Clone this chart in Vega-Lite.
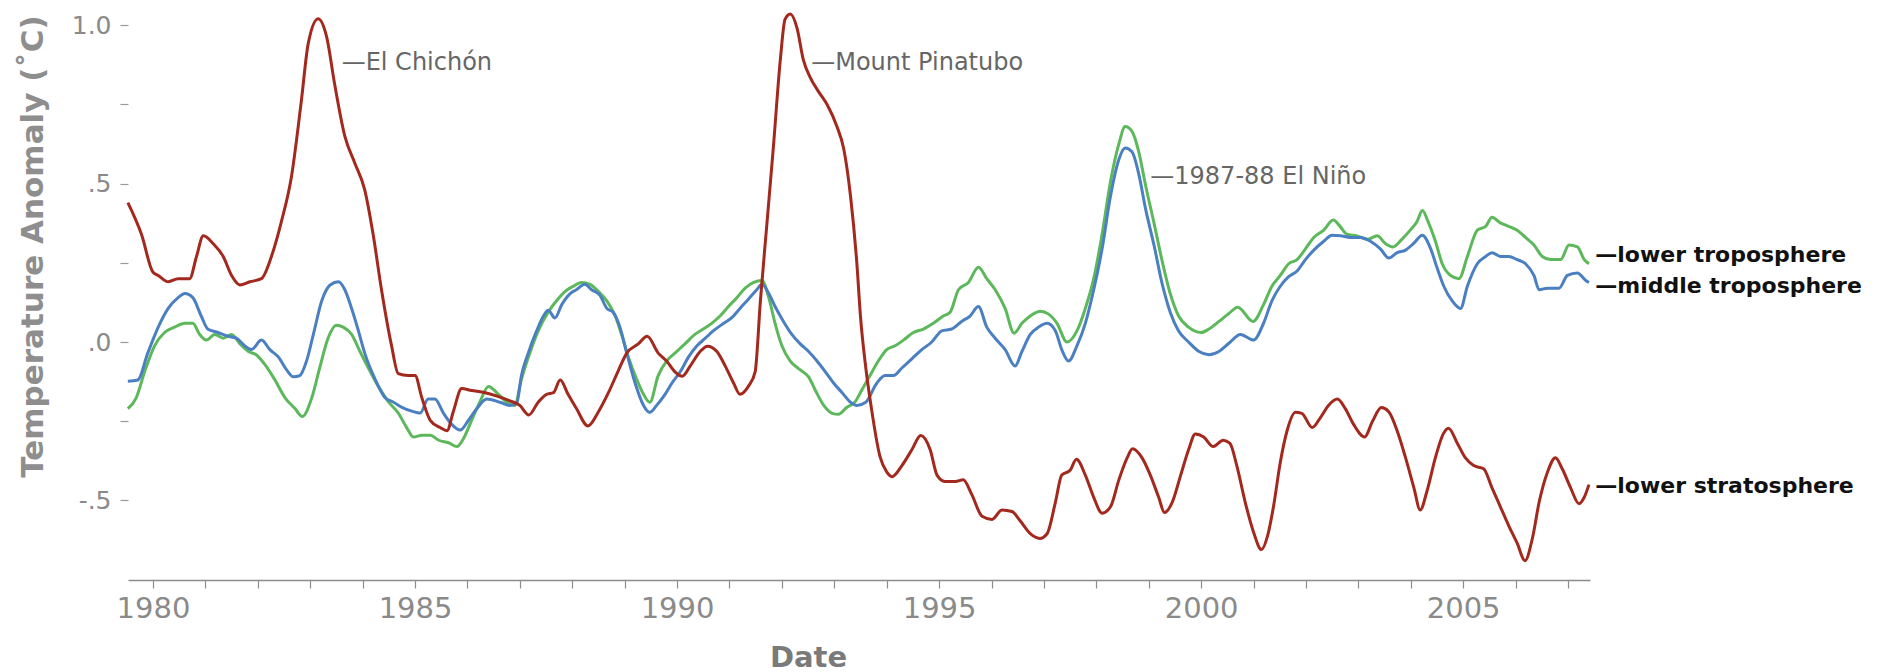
{
  "$schema": "https://vega.github.io/schema/vega-lite/v6.json",
  "width": 1462,
  "height": 572,
  "autosize": {"type": "none"},
  "padding": {"left": 128, "top": 8, "right": 295, "bottom": 92},
  "background": "white",
  "config": {"view": {"stroke": null}, "font": "DejaVu Sans"},
  "datasets": {
    "series": [
      {"year":1979.52,"series":"lower troposphere","value":-0.21},
      {"year":1979.68,"series":"lower troposphere","value":-0.176},
      {"year":1979.84,"series":"lower troposphere","value":-0.094},
      {"year":1980.03,"series":"lower troposphere","value":-0.012},
      {"year":1980.22,"series":"lower troposphere","value":0.03},
      {"year":1980.41,"series":"lower troposphere","value":0.047},
      {"year":1980.61,"series":"lower troposphere","value":0.059},
      {"year":1980.76,"series":"lower troposphere","value":0.059},
      {"year":1980.89,"series":"lower troposphere","value":0.024},
      {"year":1981.02,"series":"lower troposphere","value":0.006},
      {"year":1981.18,"series":"lower troposphere","value":0.024},
      {"year":1981.34,"series":"lower troposphere","value":0.012},
      {"year":1981.5,"series":"lower troposphere","value":0.024},
      {"year":1981.66,"series":"lower troposphere","value":-0.006},
      {"year":1981.82,"series":"lower troposphere","value":-0.03},
      {"year":1981.97,"series":"lower troposphere","value":-0.04},
      {"year":1982.13,"series":"lower troposphere","value":-0.07},
      {"year":1982.32,"series":"lower troposphere","value":-0.118},
      {"year":1982.52,"series":"lower troposphere","value":-0.176},
      {"year":1982.71,"series":"lower troposphere","value":-0.21},
      {"year":1982.85,"series":"lower troposphere","value":-0.235},
      {"year":1983.03,"series":"lower troposphere","value":-0.176},
      {"year":1983.18,"series":"lower troposphere","value":-0.082},
      {"year":1983.34,"series":"lower troposphere","value":0.012},
      {"year":1983.5,"series":"lower troposphere","value":0.053},
      {"year":1983.63,"series":"lower troposphere","value":0.047},
      {"year":1983.79,"series":"lower troposphere","value":0.024},
      {"year":1983.95,"series":"lower troposphere","value":-0.03},
      {"year":1984.11,"series":"lower troposphere","value":-0.082},
      {"year":1984.3,"series":"lower troposphere","value":-0.14},
      {"year":1984.49,"series":"lower troposphere","value":-0.188},
      {"year":1984.68,"series":"lower troposphere","value":-0.224},
      {"year":1984.84,"series":"lower troposphere","value":-0.27},
      {"year":1984.97,"series":"lower troposphere","value":-0.3},
      {"year":1985.13,"series":"lower troposphere","value":-0.294},
      {"year":1985.29,"series":"lower troposphere","value":-0.294},
      {"year":1985.45,"series":"lower troposphere","value":-0.31},
      {"year":1985.64,"series":"lower troposphere","value":-0.318},
      {"year":1985.8,"series":"lower troposphere","value":-0.33},
      {"year":1985.92,"series":"lower troposphere","value":-0.306},
      {"year":1986.08,"series":"lower troposphere","value":-0.247},
      {"year":1986.24,"series":"lower troposphere","value":-0.188},
      {"year":1986.4,"series":"lower troposphere","value":-0.14},
      {"year":1986.59,"series":"lower troposphere","value":-0.165},
      {"year":1986.75,"series":"lower troposphere","value":-0.19},
      {"year":1986.9,"series":"lower troposphere","value":-0.2},
      {"year":1987.03,"series":"lower troposphere","value":-0.118},
      {"year":1987.19,"series":"lower troposphere","value":-0.035},
      {"year":1987.35,"series":"lower troposphere","value":0.035},
      {"year":1987.54,"series":"lower troposphere","value":0.094},
      {"year":1987.7,"series":"lower troposphere","value":0.13},
      {"year":1987.86,"series":"lower troposphere","value":0.159},
      {"year":1988.02,"series":"lower troposphere","value":0.176},
      {"year":1988.18,"series":"lower troposphere","value":0.188},
      {"year":1988.34,"series":"lower troposphere","value":0.182},
      {"year":1988.5,"series":"lower troposphere","value":0.159},
      {"year":1988.66,"series":"lower troposphere","value":0.13},
      {"year":1988.82,"series":"lower troposphere","value":0.082},
      {"year":1988.94,"series":"lower troposphere","value":0.024},
      {"year":1989.07,"series":"lower troposphere","value":-0.047},
      {"year":1989.23,"series":"lower troposphere","value":-0.118},
      {"year":1989.36,"series":"lower troposphere","value":-0.165},
      {"year":1989.48,"series":"lower troposphere","value":-0.19},
      {"year":1989.64,"series":"lower troposphere","value":-0.106},
      {"year":1989.8,"series":"lower troposphere","value":-0.06},
      {"year":1989.96,"series":"lower troposphere","value":-0.035},
      {"year":1990.15,"series":"lower troposphere","value":-0.006},
      {"year":1990.34,"series":"lower troposphere","value":0.024},
      {"year":1990.5,"series":"lower troposphere","value":0.041},
      {"year":1990.66,"series":"lower troposphere","value":0.059},
      {"year":1990.82,"series":"lower troposphere","value":0.082},
      {"year":1990.98,"series":"lower troposphere","value":0.112},
      {"year":1991.14,"series":"lower troposphere","value":0.14},
      {"year":1991.3,"series":"lower troposphere","value":0.17},
      {"year":1991.46,"series":"lower troposphere","value":0.188},
      {"year":1991.62,"series":"lower troposphere","value":0.194},
      {"year":1991.75,"series":"lower troposphere","value":0.14},
      {"year":1991.87,"series":"lower troposphere","value":0.059},
      {"year":1992.0,"series":"lower troposphere","value":-0.012},
      {"year":1992.16,"series":"lower troposphere","value":-0.06},
      {"year":1992.35,"series":"lower troposphere","value":-0.088},
      {"year":1992.51,"series":"lower troposphere","value":-0.11},
      {"year":1992.64,"series":"lower troposphere","value":-0.153},
      {"year":1992.8,"series":"lower troposphere","value":-0.2},
      {"year":1992.96,"series":"lower troposphere","value":-0.225},
      {"year":1993.08,"series":"lower troposphere","value":-0.228},
      {"year":1993.24,"series":"lower troposphere","value":-0.206},
      {"year":1993.4,"series":"lower troposphere","value":-0.188},
      {"year":1993.52,"series":"lower troposphere","value":-0.153},
      {"year":1993.68,"series":"lower troposphere","value":-0.106},
      {"year":1993.84,"series":"lower troposphere","value":-0.06},
      {"year":1994.0,"series":"lower troposphere","value":-0.024},
      {"year":1994.16,"series":"lower troposphere","value":-0.012},
      {"year":1994.32,"series":"lower troposphere","value":0.006},
      {"year":1994.51,"series":"lower troposphere","value":0.03},
      {"year":1994.7,"series":"lower troposphere","value":0.041},
      {"year":1994.89,"series":"lower troposphere","value":0.059},
      {"year":1995.08,"series":"lower troposphere","value":0.082},
      {"year":1995.21,"series":"lower troposphere","value":0.094},
      {"year":1995.37,"series":"lower troposphere","value":0.165},
      {"year":1995.56,"series":"lower troposphere","value":0.188},
      {"year":1995.75,"series":"lower troposphere","value":0.236},
      {"year":1995.91,"series":"lower troposphere","value":0.2},
      {"year":1996.07,"series":"lower troposphere","value":0.165},
      {"year":1996.26,"series":"lower troposphere","value":0.106},
      {"year":1996.43,"series":"lower troposphere","value":0.028},
      {"year":1996.58,"series":"lower troposphere","value":0.059},
      {"year":1996.74,"series":"lower troposphere","value":0.082},
      {"year":1996.93,"series":"lower troposphere","value":0.097},
      {"year":1997.09,"series":"lower troposphere","value":0.088},
      {"year":1997.25,"series":"lower troposphere","value":0.059},
      {"year":1997.44,"series":"lower troposphere","value":0.0},
      {"year":1997.63,"series":"lower troposphere","value":0.035},
      {"year":1997.79,"series":"lower troposphere","value":0.106},
      {"year":1997.95,"series":"lower troposphere","value":0.2},
      {"year":1998.11,"series":"lower troposphere","value":0.34},
      {"year":1998.27,"series":"lower troposphere","value":0.506},
      {"year":1998.43,"series":"lower troposphere","value":0.625},
      {"year":1998.55,"series":"lower troposphere","value":0.68},
      {"year":1998.68,"series":"lower troposphere","value":0.665},
      {"year":1998.81,"series":"lower troposphere","value":0.6},
      {"year":1998.94,"series":"lower troposphere","value":0.494},
      {"year":1999.1,"series":"lower troposphere","value":0.376},
      {"year":1999.25,"series":"lower troposphere","value":0.26},
      {"year":1999.41,"series":"lower troposphere","value":0.153},
      {"year":1999.57,"series":"lower troposphere","value":0.082},
      {"year":1999.76,"series":"lower troposphere","value":0.047},
      {"year":2000.0,"series":"lower troposphere","value":0.03},
      {"year":2000.15,"series":"lower troposphere","value":0.041},
      {"year":2000.34,"series":"lower troposphere","value":0.065},
      {"year":2000.53,"series":"lower troposphere","value":0.09},
      {"year":2000.7,"series":"lower troposphere","value":0.11},
      {"year":2000.99,"series":"lower troposphere","value":0.065},
      {"year":2001.19,"series":"lower troposphere","value":0.118},
      {"year":2001.35,"series":"lower troposphere","value":0.176},
      {"year":2001.51,"series":"lower troposphere","value":0.21},
      {"year":2001.67,"series":"lower troposphere","value":0.247},
      {"year":2001.83,"series":"lower troposphere","value":0.26},
      {"year":2001.99,"series":"lower troposphere","value":0.294},
      {"year":2002.15,"series":"lower troposphere","value":0.33},
      {"year":2002.34,"series":"lower troposphere","value":0.353},
      {"year":2002.52,"series":"lower troposphere","value":0.385},
      {"year":2002.65,"series":"lower troposphere","value":0.365},
      {"year":2002.78,"series":"lower troposphere","value":0.34},
      {"year":2002.97,"series":"lower troposphere","value":0.335},
      {"year":2003.17,"series":"lower troposphere","value":0.324},
      {"year":2003.36,"series":"lower troposphere","value":0.335},
      {"year":2003.52,"series":"lower troposphere","value":0.31},
      {"year":2003.66,"series":"lower troposphere","value":0.3},
      {"year":2003.83,"series":"lower troposphere","value":0.324},
      {"year":2003.99,"series":"lower troposphere","value":0.353},
      {"year":2004.12,"series":"lower troposphere","value":0.38},
      {"year":2004.22,"series":"lower troposphere","value":0.415},
      {"year":2004.34,"series":"lower troposphere","value":0.376},
      {"year":2004.47,"series":"lower troposphere","value":0.318},
      {"year":2004.6,"series":"lower troposphere","value":0.247},
      {"year":2004.76,"series":"lower troposphere","value":0.21},
      {"year":2004.92,"series":"lower troposphere","value":0.2},
      {"year":2005.08,"series":"lower troposphere","value":0.27},
      {"year":2005.27,"series":"lower troposphere","value":0.353},
      {"year":2005.43,"series":"lower troposphere","value":0.365},
      {"year":2005.55,"series":"lower troposphere","value":0.394},
      {"year":2005.71,"series":"lower troposphere","value":0.376},
      {"year":2005.87,"series":"lower troposphere","value":0.365},
      {"year":2006.03,"series":"lower troposphere","value":0.353},
      {"year":2006.19,"series":"lower troposphere","value":0.33},
      {"year":2006.35,"series":"lower troposphere","value":0.306},
      {"year":2006.51,"series":"lower troposphere","value":0.27},
      {"year":2006.67,"series":"lower troposphere","value":0.26},
      {"year":2006.86,"series":"lower troposphere","value":0.26},
      {"year":2007.02,"series":"lower troposphere","value":0.306},
      {"year":2007.18,"series":"lower troposphere","value":0.3},
      {"year":2007.31,"series":"lower troposphere","value":0.26},
      {"year":2007.4,"series":"lower troposphere","value":0.247},

      {"year":1979.52,"series":"middle troposphere","value":-0.124},
      {"year":1979.71,"series":"middle troposphere","value":-0.12},
      {"year":1979.9,"series":"middle troposphere","value":-0.035},
      {"year":1980.1,"series":"middle troposphere","value":0.047},
      {"year":1980.29,"series":"middle troposphere","value":0.106},
      {"year":1980.48,"series":"middle troposphere","value":0.14},
      {"year":1980.61,"series":"middle troposphere","value":0.153},
      {"year":1980.76,"series":"middle troposphere","value":0.14},
      {"year":1980.92,"series":"middle troposphere","value":0.082},
      {"year":1981.05,"series":"middle troposphere","value":0.04},
      {"year":1981.24,"series":"middle troposphere","value":0.03},
      {"year":1981.43,"series":"middle troposphere","value":0.018},
      {"year":1981.59,"series":"middle troposphere","value":0.012},
      {"year":1981.75,"series":"middle troposphere","value":-0.012},
      {"year":1981.88,"series":"middle troposphere","value":-0.024},
      {"year":1982.07,"series":"middle troposphere","value":0.006},
      {"year":1982.23,"series":"middle troposphere","value":-0.024},
      {"year":1982.39,"series":"middle troposphere","value":-0.047},
      {"year":1982.55,"series":"middle troposphere","value":-0.088},
      {"year":1982.68,"series":"middle troposphere","value":-0.11},
      {"year":1982.8,"series":"middle troposphere","value":-0.106},
      {"year":1982.93,"series":"middle troposphere","value":-0.06},
      {"year":1983.06,"series":"middle troposphere","value":0.024},
      {"year":1983.22,"series":"middle troposphere","value":0.13},
      {"year":1983.38,"series":"middle troposphere","value":0.18},
      {"year":1983.54,"series":"middle troposphere","value":0.19},
      {"year":1983.66,"series":"middle troposphere","value":0.165},
      {"year":1983.79,"series":"middle troposphere","value":0.106},
      {"year":1983.92,"series":"middle troposphere","value":0.035},
      {"year":1984.04,"series":"middle troposphere","value":-0.035},
      {"year":1984.24,"series":"middle troposphere","value":-0.118},
      {"year":1984.43,"series":"middle troposphere","value":-0.176},
      {"year":1984.59,"series":"middle troposphere","value":-0.19},
      {"year":1984.75,"series":"middle troposphere","value":-0.206},
      {"year":1984.94,"series":"middle troposphere","value":-0.218},
      {"year":1985.1,"series":"middle troposphere","value":-0.224},
      {"year":1985.25,"series":"middle troposphere","value":-0.18},
      {"year":1985.38,"series":"middle troposphere","value":-0.18},
      {"year":1985.54,"series":"middle troposphere","value":-0.224},
      {"year":1985.7,"series":"middle troposphere","value":-0.26},
      {"year":1985.86,"series":"middle troposphere","value":-0.278},
      {"year":1986.02,"series":"middle troposphere","value":-0.247},
      {"year":1986.18,"series":"middle troposphere","value":-0.21},
      {"year":1986.37,"series":"middle troposphere","value":-0.18},
      {"year":1986.62,"series":"middle troposphere","value":-0.19},
      {"year":1986.81,"series":"middle troposphere","value":-0.2},
      {"year":1986.94,"series":"middle troposphere","value":-0.194},
      {"year":1987.03,"series":"middle troposphere","value":-0.106},
      {"year":1987.16,"series":"middle troposphere","value":-0.035},
      {"year":1987.32,"series":"middle troposphere","value":0.035},
      {"year":1987.45,"series":"middle troposphere","value":0.082},
      {"year":1987.54,"series":"middle troposphere","value":0.1},
      {"year":1987.67,"series":"middle troposphere","value":0.076},
      {"year":1987.8,"series":"middle troposphere","value":0.118},
      {"year":1987.96,"series":"middle troposphere","value":0.153},
      {"year":1988.08,"series":"middle troposphere","value":0.165},
      {"year":1988.24,"series":"middle troposphere","value":0.182},
      {"year":1988.37,"series":"middle troposphere","value":0.165},
      {"year":1988.53,"series":"middle troposphere","value":0.147},
      {"year":1988.66,"series":"middle troposphere","value":0.106},
      {"year":1988.78,"series":"middle troposphere","value":0.094},
      {"year":1988.91,"series":"middle troposphere","value":0.047},
      {"year":1989.04,"series":"middle troposphere","value":-0.035},
      {"year":1989.2,"series":"middle troposphere","value":-0.13},
      {"year":1989.36,"series":"middle troposphere","value":-0.2},
      {"year":1989.48,"series":"middle troposphere","value":-0.222},
      {"year":1989.61,"series":"middle troposphere","value":-0.2},
      {"year":1989.77,"series":"middle troposphere","value":-0.165},
      {"year":1989.9,"series":"middle troposphere","value":-0.13},
      {"year":1990.06,"series":"middle troposphere","value":-0.094},
      {"year":1990.22,"series":"middle troposphere","value":-0.047},
      {"year":1990.38,"series":"middle troposphere","value":-0.012},
      {"year":1990.54,"series":"middle troposphere","value":0.012},
      {"year":1990.69,"series":"middle troposphere","value":0.035},
      {"year":1990.89,"series":"middle troposphere","value":0.059},
      {"year":1991.04,"series":"middle troposphere","value":0.076},
      {"year":1991.2,"series":"middle troposphere","value":0.106},
      {"year":1991.36,"series":"middle troposphere","value":0.135},
      {"year":1991.52,"series":"middle troposphere","value":0.165},
      {"year":1991.62,"series":"middle troposphere","value":0.182},
      {"year":1991.75,"series":"middle troposphere","value":0.153},
      {"year":1991.87,"series":"middle troposphere","value":0.112},
      {"year":1992.03,"series":"middle troposphere","value":0.065},
      {"year":1992.19,"series":"middle troposphere","value":0.024},
      {"year":1992.35,"series":"middle troposphere","value":-0.006},
      {"year":1992.51,"series":"middle troposphere","value":-0.03},
      {"year":1992.67,"series":"middle troposphere","value":-0.06},
      {"year":1992.83,"series":"middle troposphere","value":-0.094},
      {"year":1992.99,"series":"middle troposphere","value":-0.13},
      {"year":1993.15,"series":"middle troposphere","value":-0.16},
      {"year":1993.31,"series":"middle troposphere","value":-0.19},
      {"year":1993.43,"series":"middle troposphere","value":-0.2},
      {"year":1993.6,"series":"middle troposphere","value":-0.19},
      {"year":1993.81,"series":"middle troposphere","value":-0.13},
      {"year":1993.97,"series":"middle troposphere","value":-0.106},
      {"year":1994.13,"series":"middle troposphere","value":-0.106},
      {"year":1994.29,"series":"middle troposphere","value":-0.082},
      {"year":1994.48,"series":"middle troposphere","value":-0.053},
      {"year":1994.67,"series":"middle troposphere","value":-0.024},
      {"year":1994.86,"series":"middle troposphere","value":0.0},
      {"year":1995.05,"series":"middle troposphere","value":0.035},
      {"year":1995.24,"series":"middle troposphere","value":0.041},
      {"year":1995.43,"series":"middle troposphere","value":0.065},
      {"year":1995.59,"series":"middle troposphere","value":0.082},
      {"year":1995.75,"series":"middle troposphere","value":0.112},
      {"year":1995.91,"series":"middle troposphere","value":0.047},
      {"year":1996.07,"series":"middle troposphere","value":0.012},
      {"year":1996.26,"series":"middle troposphere","value":-0.024},
      {"year":1996.45,"series":"middle troposphere","value":-0.076},
      {"year":1996.58,"series":"middle troposphere","value":-0.03},
      {"year":1996.74,"series":"middle troposphere","value":0.024},
      {"year":1996.9,"series":"middle troposphere","value":0.047},
      {"year":1997.06,"series":"middle troposphere","value":0.059},
      {"year":1997.22,"series":"middle troposphere","value":0.035},
      {"year":1997.34,"series":"middle troposphere","value":-0.024},
      {"year":1997.47,"series":"middle troposphere","value":-0.06},
      {"year":1997.63,"series":"middle troposphere","value":-0.012},
      {"year":1997.79,"series":"middle troposphere","value":0.059},
      {"year":1997.95,"series":"middle troposphere","value":0.165},
      {"year":1998.11,"series":"middle troposphere","value":0.294},
      {"year":1998.27,"series":"middle troposphere","value":0.46},
      {"year":1998.43,"series":"middle troposphere","value":0.576},
      {"year":1998.55,"series":"middle troposphere","value":0.612},
      {"year":1998.68,"series":"middle troposphere","value":0.6},
      {"year":1998.81,"series":"middle troposphere","value":0.53},
      {"year":1998.94,"series":"middle troposphere","value":0.42},
      {"year":1999.1,"series":"middle troposphere","value":0.306},
      {"year":1999.25,"series":"middle troposphere","value":0.188},
      {"year":1999.41,"series":"middle troposphere","value":0.094},
      {"year":1999.57,"series":"middle troposphere","value":0.035},
      {"year":1999.76,"series":"middle troposphere","value":0.0},
      {"year":1999.96,"series":"middle troposphere","value":-0.03},
      {"year":2000.15,"series":"middle troposphere","value":-0.04},
      {"year":2000.34,"series":"middle troposphere","value":-0.03},
      {"year":2000.53,"series":"middle troposphere","value":-0.004},
      {"year":2000.75,"series":"middle troposphere","value":0.024},
      {"year":2001.0,"series":"middle troposphere","value":0.006},
      {"year":2001.19,"series":"middle troposphere","value":0.059},
      {"year":2001.35,"series":"middle troposphere","value":0.13},
      {"year":2001.51,"series":"middle troposphere","value":0.176},
      {"year":2001.67,"series":"middle troposphere","value":0.206},
      {"year":2001.83,"series":"middle troposphere","value":0.224},
      {"year":2001.99,"series":"middle troposphere","value":0.26},
      {"year":2002.15,"series":"middle troposphere","value":0.29},
      {"year":2002.34,"series":"middle troposphere","value":0.318},
      {"year":2002.5,"series":"middle troposphere","value":0.337},
      {"year":2002.66,"series":"middle troposphere","value":0.335},
      {"year":2002.85,"series":"middle troposphere","value":0.33},
      {"year":2003.04,"series":"middle troposphere","value":0.33},
      {"year":2003.23,"series":"middle troposphere","value":0.318},
      {"year":2003.42,"series":"middle troposphere","value":0.294},
      {"year":2003.58,"series":"middle troposphere","value":0.265},
      {"year":2003.74,"series":"middle troposphere","value":0.282},
      {"year":2003.9,"series":"middle troposphere","value":0.29},
      {"year":2004.06,"series":"middle troposphere","value":0.312},
      {"year":2004.22,"series":"middle troposphere","value":0.337},
      {"year":2004.38,"series":"middle troposphere","value":0.294},
      {"year":2004.5,"series":"middle troposphere","value":0.235},
      {"year":2004.63,"series":"middle troposphere","value":0.176},
      {"year":2004.79,"series":"middle troposphere","value":0.13},
      {"year":2004.95,"series":"middle troposphere","value":0.106},
      {"year":2005.08,"series":"middle troposphere","value":0.176},
      {"year":2005.27,"series":"middle troposphere","value":0.247},
      {"year":2005.43,"series":"middle troposphere","value":0.27},
      {"year":2005.55,"series":"middle troposphere","value":0.282},
      {"year":2005.71,"series":"middle troposphere","value":0.27},
      {"year":2005.87,"series":"middle troposphere","value":0.27},
      {"year":2006.03,"series":"middle troposphere","value":0.26},
      {"year":2006.19,"series":"middle troposphere","value":0.247},
      {"year":2006.35,"series":"middle troposphere","value":0.21},
      {"year":2006.45,"series":"middle troposphere","value":0.165},
      {"year":2006.61,"series":"middle troposphere","value":0.17},
      {"year":2006.83,"series":"middle troposphere","value":0.17},
      {"year":2006.99,"series":"middle troposphere","value":0.21},
      {"year":2007.18,"series":"middle troposphere","value":0.218},
      {"year":2007.34,"series":"middle troposphere","value":0.194},
      {"year":2007.4,"series":"middle troposphere","value":0.188},

      {"year":1979.52,"series":"lower stratosphere","value":0.44},
      {"year":1979.78,"series":"lower stratosphere","value":0.34},
      {"year":1980.0,"series":"lower stratosphere","value":0.22},
      {"year":1980.1,"series":"lower stratosphere","value":0.21},
      {"year":1980.29,"series":"lower stratosphere","value":0.19},
      {"year":1980.48,"series":"lower stratosphere","value":0.2},
      {"year":1980.7,"series":"lower stratosphere","value":0.2},
      {"year":1980.83,"series":"lower stratosphere","value":0.27},
      {"year":1980.96,"series":"lower stratosphere","value":0.335},
      {"year":1981.15,"series":"lower stratosphere","value":0.31},
      {"year":1981.34,"series":"lower stratosphere","value":0.27},
      {"year":1981.5,"series":"lower stratosphere","value":0.21},
      {"year":1981.66,"series":"lower stratosphere","value":0.18},
      {"year":1981.85,"series":"lower stratosphere","value":0.19},
      {"year":1982.07,"series":"lower stratosphere","value":0.2},
      {"year":1982.26,"series":"lower stratosphere","value":0.27},
      {"year":1982.45,"series":"lower stratosphere","value":0.38},
      {"year":1982.64,"series":"lower stratosphere","value":0.52},
      {"year":1982.83,"series":"lower stratosphere","value":0.76},
      {"year":1982.96,"series":"lower stratosphere","value":0.94},
      {"year":1983.15,"series":"lower stratosphere","value":1.02},
      {"year":1983.31,"series":"lower stratosphere","value":0.965},
      {"year":1983.47,"series":"lower stratosphere","value":0.81},
      {"year":1983.66,"series":"lower stratosphere","value":0.65},
      {"year":1983.85,"series":"lower stratosphere","value":0.565},
      {"year":1984.04,"series":"lower stratosphere","value":0.48},
      {"year":1984.2,"series":"lower stratosphere","value":0.34},
      {"year":1984.36,"series":"lower stratosphere","value":0.165},
      {"year":1984.55,"series":"lower stratosphere","value":-0.01},
      {"year":1984.68,"series":"lower stratosphere","value":-0.1},
      {"year":1984.87,"series":"lower stratosphere","value":-0.106},
      {"year":1985.0,"series":"lower stratosphere","value":-0.106},
      {"year":1985.13,"series":"lower stratosphere","value":-0.176},
      {"year":1985.29,"series":"lower stratosphere","value":-0.247},
      {"year":1985.48,"series":"lower stratosphere","value":-0.27},
      {"year":1985.61,"series":"lower stratosphere","value":-0.28},
      {"year":1985.73,"series":"lower stratosphere","value":-0.22},
      {"year":1985.89,"series":"lower stratosphere","value":-0.147},
      {"year":1986.08,"series":"lower stratosphere","value":-0.153},
      {"year":1986.34,"series":"lower stratosphere","value":-0.16},
      {"year":1986.55,"series":"lower stratosphere","value":-0.17},
      {"year":1986.8,"series":"lower stratosphere","value":-0.185},
      {"year":1987.0,"series":"lower stratosphere","value":-0.2},
      {"year":1987.17,"series":"lower stratosphere","value":-0.23},
      {"year":1987.35,"series":"lower stratosphere","value":-0.19},
      {"year":1987.51,"series":"lower stratosphere","value":-0.165},
      {"year":1987.64,"series":"lower stratosphere","value":-0.16},
      {"year":1987.77,"series":"lower stratosphere","value":-0.12},
      {"year":1987.92,"series":"lower stratosphere","value":-0.165},
      {"year":1988.08,"series":"lower stratosphere","value":-0.21},
      {"year":1988.3,"series":"lower stratosphere","value":-0.265},
      {"year":1988.5,"series":"lower stratosphere","value":-0.22},
      {"year":1988.69,"series":"lower stratosphere","value":-0.16},
      {"year":1988.88,"series":"lower stratosphere","value":-0.09},
      {"year":1989.04,"series":"lower stratosphere","value":-0.035},
      {"year":1989.26,"series":"lower stratosphere","value":-0.006},
      {"year":1989.43,"series":"lower stratosphere","value":0.018},
      {"year":1989.64,"series":"lower stratosphere","value":-0.035},
      {"year":1989.8,"series":"lower stratosphere","value":-0.06},
      {"year":1989.96,"series":"lower stratosphere","value":-0.094},
      {"year":1990.1,"series":"lower stratosphere","value":-0.108},
      {"year":1990.25,"series":"lower stratosphere","value":-0.076},
      {"year":1990.44,"series":"lower stratosphere","value":-0.03},
      {"year":1990.58,"series":"lower stratosphere","value":-0.013},
      {"year":1990.76,"series":"lower stratosphere","value":-0.03},
      {"year":1990.92,"series":"lower stratosphere","value":-0.076},
      {"year":1991.08,"series":"lower stratosphere","value":-0.13},
      {"year":1991.2,"series":"lower stratosphere","value":-0.165},
      {"year":1991.36,"series":"lower stratosphere","value":-0.14},
      {"year":1991.49,"series":"lower stratosphere","value":-0.094},
      {"year":1991.59,"series":"lower stratosphere","value":0.13},
      {"year":1991.71,"series":"lower stratosphere","value":0.365},
      {"year":1991.84,"series":"lower stratosphere","value":0.62},
      {"year":1991.97,"series":"lower stratosphere","value":0.89},
      {"year":1992.06,"series":"lower stratosphere","value":1.018},
      {"year":1992.16,"series":"lower stratosphere","value":1.035},
      {"year":1992.29,"series":"lower stratosphere","value":0.99},
      {"year":1992.41,"series":"lower stratosphere","value":0.89},
      {"year":1992.54,"series":"lower stratosphere","value":0.835},
      {"year":1992.7,"series":"lower stratosphere","value":0.79},
      {"year":1992.86,"series":"lower stratosphere","value":0.75},
      {"year":1993.05,"series":"lower stratosphere","value":0.68},
      {"year":1993.18,"series":"lower stratosphere","value":0.61},
      {"year":1993.31,"series":"lower stratosphere","value":0.46},
      {"year":1993.43,"series":"lower stratosphere","value":0.25},
      {"year":1993.5,"series":"lower stratosphere","value":0.08},
      {"year":1993.6,"series":"lower stratosphere","value":-0.08},
      {"year":1993.7,"series":"lower stratosphere","value":-0.2},
      {"year":1993.87,"series":"lower stratosphere","value":-0.36},
      {"year":1994.0,"series":"lower stratosphere","value":-0.41},
      {"year":1994.1,"series":"lower stratosphere","value":-0.425},
      {"year":1994.29,"series":"lower stratosphere","value":-0.39},
      {"year":1994.48,"series":"lower stratosphere","value":-0.34},
      {"year":1994.65,"series":"lower stratosphere","value":-0.295},
      {"year":1994.83,"series":"lower stratosphere","value":-0.34},
      {"year":1994.96,"series":"lower stratosphere","value":-0.42},
      {"year":1995.11,"series":"lower stratosphere","value":-0.44},
      {"year":1995.31,"series":"lower stratosphere","value":-0.44},
      {"year":1995.46,"series":"lower stratosphere","value":-0.435},
      {"year":1995.62,"series":"lower stratosphere","value":-0.48},
      {"year":1995.82,"series":"lower stratosphere","value":-0.55},
      {"year":1996.01,"series":"lower stratosphere","value":-0.56},
      {"year":1996.2,"series":"lower stratosphere","value":-0.53},
      {"year":1996.39,"series":"lower stratosphere","value":-0.535},
      {"year":1996.55,"series":"lower stratosphere","value":-0.565},
      {"year":1996.74,"series":"lower stratosphere","value":-0.605},
      {"year":1996.92,"series":"lower stratosphere","value":-0.62},
      {"year":1997.06,"series":"lower stratosphere","value":-0.605},
      {"year":1997.22,"series":"lower stratosphere","value":-0.505},
      {"year":1997.34,"series":"lower stratosphere","value":-0.42},
      {"year":1997.5,"series":"lower stratosphere","value":-0.405},
      {"year":1997.62,"series":"lower stratosphere","value":-0.37},
      {"year":1997.79,"series":"lower stratosphere","value":-0.42},
      {"year":1997.95,"series":"lower stratosphere","value":-0.49},
      {"year":1998.11,"series":"lower stratosphere","value":-0.54},
      {"year":1998.27,"series":"lower stratosphere","value":-0.52},
      {"year":1998.43,"series":"lower stratosphere","value":-0.435},
      {"year":1998.59,"series":"lower stratosphere","value":-0.365},
      {"year":1998.69,"series":"lower stratosphere","value":-0.337},
      {"year":1998.87,"series":"lower stratosphere","value":-0.365},
      {"year":1999.03,"series":"lower stratosphere","value":-0.42},
      {"year":1999.19,"series":"lower stratosphere","value":-0.49},
      {"year":1999.3,"series":"lower stratosphere","value":-0.538},
      {"year":1999.45,"series":"lower stratosphere","value":-0.505},
      {"year":1999.61,"series":"lower stratosphere","value":-0.42},
      {"year":1999.76,"series":"lower stratosphere","value":-0.34},
      {"year":1999.89,"series":"lower stratosphere","value":-0.29},
      {"year":2000.05,"series":"lower stratosphere","value":-0.3},
      {"year":2000.23,"series":"lower stratosphere","value":-0.33},
      {"year":2000.42,"series":"lower stratosphere","value":-0.31},
      {"year":2000.55,"series":"lower stratosphere","value":-0.32},
      {"year":2000.68,"series":"lower stratosphere","value":-0.39},
      {"year":2000.84,"series":"lower stratosphere","value":-0.505},
      {"year":2001.0,"series":"lower stratosphere","value":-0.6},
      {"year":2001.15,"series":"lower stratosphere","value":-0.655},
      {"year":2001.27,"series":"lower stratosphere","value":-0.61},
      {"year":2001.38,"series":"lower stratosphere","value":-0.52},
      {"year":2001.51,"series":"lower stratosphere","value":-0.38},
      {"year":2001.64,"series":"lower stratosphere","value":-0.28},
      {"year":2001.8,"series":"lower stratosphere","value":-0.222},
      {"year":2001.92,"series":"lower stratosphere","value":-0.225},
      {"year":2002.12,"series":"lower stratosphere","value":-0.27},
      {"year":2002.27,"series":"lower stratosphere","value":-0.24},
      {"year":2002.43,"series":"lower stratosphere","value":-0.2},
      {"year":2002.6,"series":"lower stratosphere","value":-0.18},
      {"year":2002.75,"series":"lower stratosphere","value":-0.21},
      {"year":2002.91,"series":"lower stratosphere","value":-0.26},
      {"year":2003.12,"series":"lower stratosphere","value":-0.3},
      {"year":2003.27,"series":"lower stratosphere","value":-0.25},
      {"year":2003.44,"series":"lower stratosphere","value":-0.207},
      {"year":2003.58,"series":"lower stratosphere","value":-0.22},
      {"year":2003.74,"series":"lower stratosphere","value":-0.28},
      {"year":2003.9,"series":"lower stratosphere","value":-0.365},
      {"year":2004.06,"series":"lower stratosphere","value":-0.46},
      {"year":2004.18,"series":"lower stratosphere","value":-0.53},
      {"year":2004.31,"series":"lower stratosphere","value":-0.47},
      {"year":2004.47,"series":"lower stratosphere","value":-0.365},
      {"year":2004.62,"series":"lower stratosphere","value":-0.29},
      {"year":2004.72,"series":"lower stratosphere","value":-0.272},
      {"year":2004.89,"series":"lower stratosphere","value":-0.32},
      {"year":2005.04,"series":"lower stratosphere","value":-0.365},
      {"year":2005.2,"series":"lower stratosphere","value":-0.39},
      {"year":2005.39,"series":"lower stratosphere","value":-0.4},
      {"year":2005.55,"series":"lower stratosphere","value":-0.46},
      {"year":2005.71,"series":"lower stratosphere","value":-0.52},
      {"year":2005.87,"series":"lower stratosphere","value":-0.58},
      {"year":2006.03,"series":"lower stratosphere","value":-0.635},
      {"year":2006.18,"series":"lower stratosphere","value":-0.69},
      {"year":2006.32,"series":"lower stratosphere","value":-0.62},
      {"year":2006.45,"series":"lower stratosphere","value":-0.505},
      {"year":2006.61,"series":"lower stratosphere","value":-0.41},
      {"year":2006.76,"series":"lower stratosphere","value":-0.365},
      {"year":2006.89,"series":"lower stratosphere","value":-0.4},
      {"year":2007.05,"series":"lower stratosphere","value":-0.46},
      {"year":2007.21,"series":"lower stratosphere","value":-0.51},
      {"year":2007.31,"series":"lower stratosphere","value":-0.49},
      {"year":2007.4,"series":"lower stratosphere","value":-0.45}
    ],
    "events": [
      {"year":1983.6,"value":0.88,"text":"—El Chichón"},
      {"year":1992.56,"value":0.88,"text":"—Mount Pinatubo"},
      {"year":1999.03,"value":0.52,"text":"—1987-88 El Niño"}
    ],
    "ends": [
      {"year":2007.52,"value":0.276,"text":"—lower troposphere"},
      {"year":2007.52,"value":0.176,"text":"—middle troposphere"},
      {"year":2007.52,"value":-0.453,"text":"—lower stratosphere"}
    ]
  },
  "layer": [
    {
      "data": {"name": "series"},
      "mark": {"type": "line", "strokeWidth": 3, "strokeJoin": "round", "interpolate": "monotone"},
      "encoding": {
        "x": {
          "field": "year", "type": "quantitative",
          "scale": {"domain": [1979.523, 2007.42], "nice": false, "zero": false},
          "axis": {
            "values": [1980,1981,1982,1983,1984,1985,1986,1987,1988,1989,1990,1991,1992,1993,1994,1995,1996,1997,1998,1999,2000,2001,2002,2003,2004,2005,2006,2007],
            "format": "d",
            "labelExpr": "datum.value % 5 == 0 ? datum.label : ''",
            "grid": false,
            "domainColor": "#8c8c8c", "domainWidth": 1.5,
            "tickColor": "#8c8c8c", "tickSize": 8, "tickWidth": 1.2,
            "labelFontSize": 29, "labelColor": "#8a8a8a", "labelPadding": 6,
            "labelFlush": false, "labelOverlap": false,
            "title": "Date", "titleFontSize": 29, "titleFontWeight": "bold", "titleColor": "#7a7a7a",
            "titleX": 680, "titleY": 77, "titleAlign": "center", "titleBaseline": "middle"
          }
        },
        "y": {
          "field": "value", "type": "quantitative",
          "scale": {"domain": [-0.751, 1.054], "nice": false, "zero": false},
          "axis": {
            "values": [-0.5, -0.25, 0, 0.25, 0.5, 0.75, 1],
            "labelExpr": "datum.value == 1 ? '1.0' : datum.value == 0.5 ? '.5' : datum.value == 0 ? '.0' : datum.value == -0.5 ? '-.5' : ''",
            "domain": false, "grid": false,
            "tickColor": "#9a9a9a", "tickSize": 8, "tickWidth": 1.2,
            "labelFontSize": 25, "labelColor": "#8a8a8a", "labelPadding": 9,
            "labelFlush": false, "labelOverlap": false,
            "title": "Temperature Anomaly (˚C)", "titleFontSize": 31, "titleFontWeight": "bold", "titleColor": "#8e8e8e",
            "titleX": -95, "titleY": 238, "titleAngle": 270, "titleAlign": "center", "titleBaseline": "middle"
          }
        },
        "color": {
          "field": "series", "type": "nominal",
          "scale": {"domain": ["lower troposphere", "middle troposphere", "lower stratosphere"], "range": ["#5cb85a", "#4a7fc1", "#a3281d"]},
          "legend": null
        },
        "order": {"field": "year", "type": "quantitative"}
      }
    },
    {
      "data": {"name": "events"},
      "mark": {"type": "text", "align": "left", "baseline": "middle", "fontSize": 24, "color": "#666666", "font": "DejaVu Sans"},
      "encoding": {
        "x": {"field": "year", "type": "quantitative"},
        "y": {"field": "value", "type": "quantitative"},
        "text": {"field": "text"}
      }
    },
    {
      "data": {"name": "ends"},
      "mark": {"type": "text", "align": "left", "baseline": "middle", "fontSize": 22, "fontWeight": "bold", "color": "#111111", "font": "DejaVu Sans"},
      "encoding": {
        "x": {"field": "year", "type": "quantitative"},
        "y": {"field": "value", "type": "quantitative"},
        "text": {"field": "text"}
      }
    }
  ]
}
